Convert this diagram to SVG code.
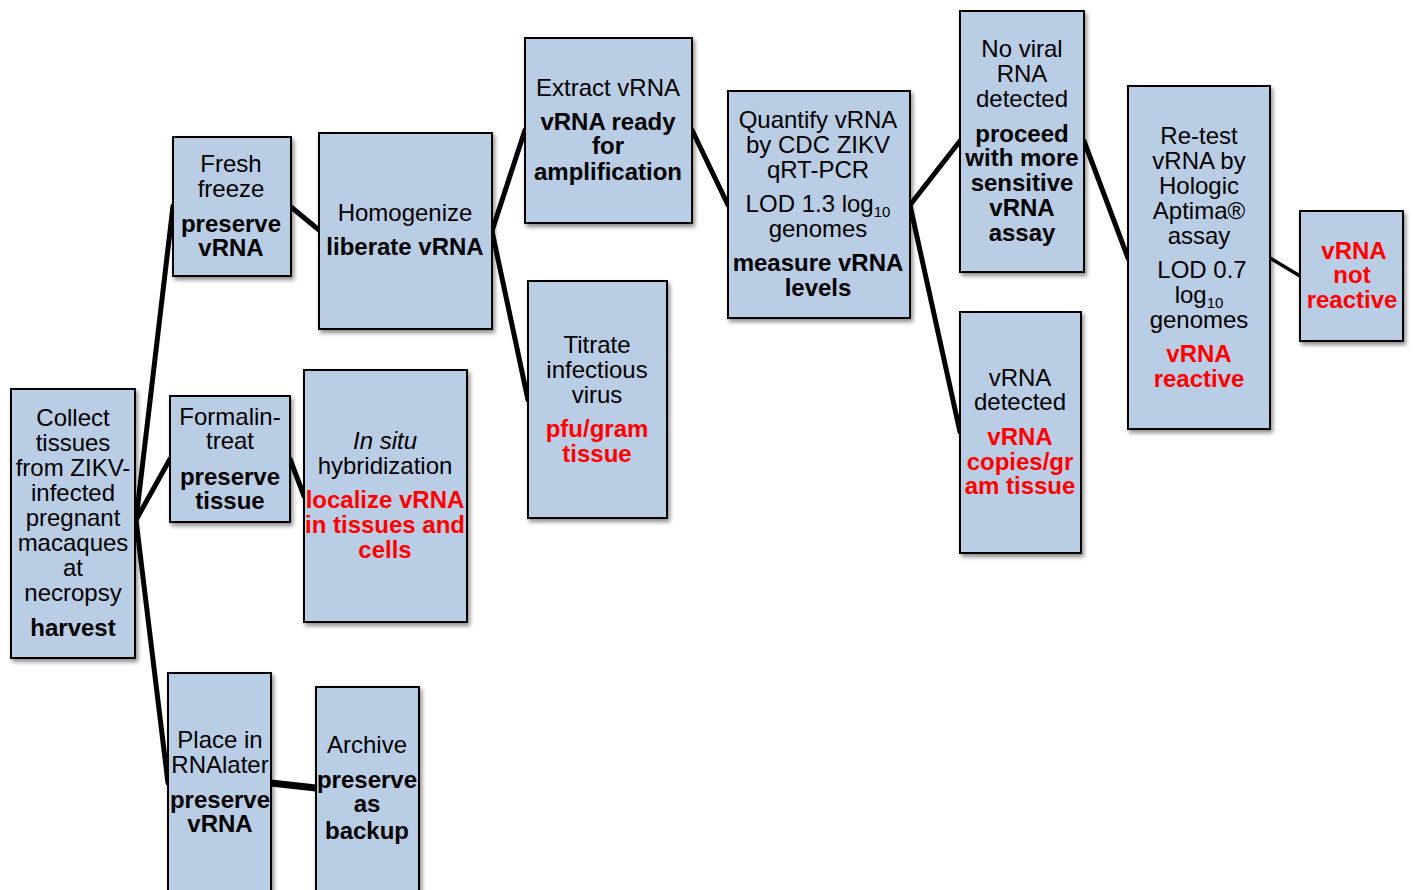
<svg xmlns="http://www.w3.org/2000/svg" width="1413" height="890" viewBox="0 0 1413 890">
<defs>
<filter id="sh" x="-10%" y="-10%" width="130%" height="130%">
<feDropShadow dx="2" dy="3" stdDeviation="2" flood-color="#000" flood-opacity="0.45"/>
</filter>
</defs>
<style>
.box{fill:#b9cde5;stroke:#000;stroke-width:2;filter:url(#sh)}
text{font-family:"Liberation Sans",Arial,sans-serif;font-size:24px;text-anchor:middle;fill:#000}
.b{font-weight:bold}
.r{fill:#ff0000;font-weight:bold}
.i{font-style:italic}
.sub{font-size:15px}
.c{stroke:#000;stroke-width:5;fill:none;stroke-linecap:round}
</style>
<rect width="1413" height="890" fill="#fff"/>
<g id="connectors">
<line class="c" x1="136" y1="520" x2="173" y2="206"/>
<line class="c" x1="136" y1="520" x2="170" y2="459"/>
<line class="c" x1="136" y1="520" x2="168" y2="783"/>
<line class="c" x1="291" y1="207" x2="319" y2="230"/>
<line class="c" x1="492" y1="231" x2="525" y2="130"/>
<line class="c" x1="492" y1="231" x2="528" y2="400"/>
<line class="c" x1="290" y1="459" x2="304" y2="496"/>
<line class="c" x1="271" y1="783" x2="316" y2="788" style="stroke-width:7"/>
<line class="c" x1="692" y1="130" x2="728" y2="205"/>
<line class="c" x1="910" y1="205" x2="960" y2="141"/>
<line class="c" x1="910" y1="205" x2="960" y2="432"/>
<line class="c" x1="1084" y1="141" x2="1128" y2="258"/>
<line class="c" x1="1270" y1="258" x2="1300" y2="276" style="stroke-width:3.5"/>
</g>
<g id="collect">
<rect class="box" x="11" y="389" width="124" height="269"/>
<text x="73" y="426">Collect</text>
<text x="73" y="451">tissues</text>
<text x="73" y="476">from ZIKV-</text>
<text x="73" y="501">infected</text>
<text x="73" y="526">pregnant</text>
<text x="73" y="551">macaques</text>
<text x="73" y="576">at</text>
<text x="73" y="601">necropsy</text>
<text x="73" y="636" class="b">harvest</text>
</g>
<g id="fresh">
<rect class="box" x="173" y="137" width="118" height="139"/>
<text x="231" y="172">Fresh</text>
<text x="231" y="197">freeze</text>
<text x="231" y="232" class="b">preserve</text>
<text x="231" y="256" class="b">vRNA</text>
</g>
<g id="homogenize">
<rect class="box" x="319" y="133" width="173" height="196"/>
<text x="405" y="221">Homogenize</text>
<text x="405" y="255" class="b">liberate vRNA</text>
</g>
<g id="formalin">
<rect class="box" x="170" y="396" width="120" height="126"/>
<text x="230" y="425">Formalin-</text>
<text x="230" y="449">treat</text>
<text x="230" y="485" class="b">preserve</text>
<text x="230" y="509" class="b">tissue</text>
</g>
<g id="insitu">
<rect class="box" x="304" y="370" width="163" height="252"/>
<text x="385" y="449" class="i">In situ</text>
<text x="385" y="474">hybridization</text>
<text x="385" y="508" class="r">localize vRNA</text>
<text x="385" y="533" class="r">in tissues and</text>
<text x="385" y="558" class="r">cells</text>
</g>
<g id="rnalater">
<rect class="box" x="168" y="673" width="103" height="230"/>
<text x="220" y="748">Place in</text>
<text x="220" y="773">RNAlater</text>
<text x="220" y="808" class="b">preserve</text>
<text x="220" y="832" class="b">vRNA</text>
</g>
<g id="archive">
<rect class="box" x="316" y="687" width="103" height="216"/>
<text x="367" y="753">Archive</text>
<text x="367" y="788" class="b">preserve</text>
<text x="367" y="812" class="b">as</text>
<text x="367" y="839" class="b">backup</text>
</g>
<g id="extract">
<rect class="box" x="525" y="38" width="167" height="185"/>
<text x="608" y="96">Extract vRNA</text>
<text x="608" y="130" class="b">vRNA ready</text>
<text x="608" y="154" class="b">for</text>
<text x="608" y="180" class="b">amplification</text>
</g>
<g id="titrate">
<rect class="box" x="528" y="281" width="139" height="237"/>
<text x="597" y="353">Titrate</text>
<text x="597" y="378">infectious</text>
<text x="597" y="403">virus</text>
<text x="597" y="437" class="r">pfu/gram</text>
<text x="597" y="462" class="r">tissue</text>
</g>
<g id="quantify">
<rect class="box" x="728" y="91" width="182" height="227"/>
<text x="818" y="128">Quantify vRNA</text>
<text x="818" y="153">by CDC ZIKV</text>
<text x="818" y="178">qRT-PCR</text>
<text x="818" y="212">LOD 1.3 log<tspan class="sub" dy="5">10</tspan></text>
<text x="818" y="237">genomes</text>
<text x="818" y="271" class="b">measure vRNA</text>
<text x="818" y="296" class="b">levels</text>
</g>
<g id="noviral">
<rect class="box" x="960" y="11" width="124" height="261"/>
<text x="1022" y="57">No viral</text>
<text x="1022" y="82">RNA</text>
<text x="1022" y="107">detected</text>
<text x="1022" y="142" class="b">proceed</text>
<text x="1022" y="166" class="b">with more</text>
<text x="1022" y="191" class="b">sensitive</text>
<text x="1022" y="216" class="b">vRNA</text>
<text x="1022" y="241" class="b">assay</text>
</g>
<g id="detected">
<rect class="box" x="960" y="312" width="121" height="241"/>
<text x="1020" y="386">vRNA</text>
<text x="1020" y="410">detected</text>
<text x="1020" y="445" class="r">vRNA</text>
<text x="1020" y="470" class="r">copies/gr</text>
<text x="1020" y="494" class="r">am tissue</text>
</g>
<g id="retest">
<rect class="box" x="1128" y="86" width="142" height="343"/>
<text x="1199" y="144">Re-test</text>
<text x="1199" y="169">vRNA by</text>
<text x="1199" y="194">Hologic</text>
<text x="1199" y="219">Aptima®</text>
<text x="1199" y="244">assay</text>
<text x="1202" y="278">LOD 0.7</text>
<text x="1199" y="303">log<tspan class="sub" dy="5">10</tspan></text>
<text x="1199" y="328">genomes</text>
<text x="1199" y="362" class="r">vRNA</text>
<text x="1199" y="387" class="r">reactive</text>
</g>
<g id="notreactive">
<rect class="box" x="1300" y="211" width="103" height="130"/>
<text x="1354" y="259" class="r">vRNA</text>
<text x="1352" y="283" class="r">not</text>
<text x="1352" y="308" class="r">reactive</text>
</g>
</svg>
